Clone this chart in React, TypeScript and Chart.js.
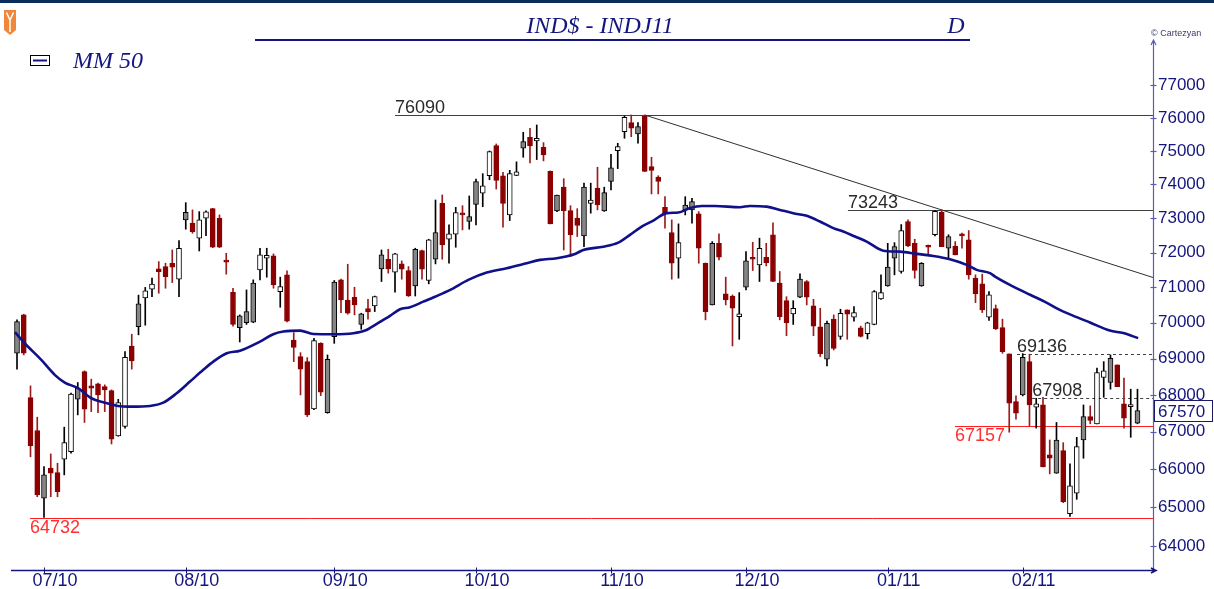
import React, { useEffect, useRef } from 'react';
import { Chart, registerables } from 'chart.js';

Chart.register(...registerables);

// ---- Daily candles, IND$ (Ibovespa futures), 25 Jun 2010 .. 24 Feb 2011 ----
const openP = [
  69146, 70220, 67925, 67035, 65234, 66027, 65910, 66265, 66467, 67880,
  68640, 68247, 68302, 68228, 68118, 66889, 67142, 69349, 69890, 70700,
  70947, 71530, 71596, 71692, 71234, 72951, 72855, 72417, 73001, 73280,
  73001, 71760, 70861, 69858, 69998, 70015, 71502, 71837, 71904, 70880,
  71358, 69516, 69053, 68916, 67618, 69422, 67518, 69606, 71215, 70642,
  70719, 69951, 70399, 70474, 71530, 71808, 71435, 71673, 71483, 71043,
  72055, 71196, 71808, 73437, 72386, 72535, 73148, 72903, 73407, 73736,
  74257, 75159, 74257, 73097, 74267, 75079, 75413, 75300, 75109, 74388,
  73215, 73916, 73225, 73001, 72486, 73437, 73886, 73215, 74085, 75008,
  75584, 75855, 75513, 76050, 74529, 74217, 73319, 72583, 71837, 73244,
  73244, 73127, 71692, 70502, 72268, 70813, 70754, 70173, 71004, 71837,
  71644, 71865, 72516, 71120, 70622, 70248, 70719, 71168, 70474, 69886,
  68980, 70100, 69615, 70361, 70155, 69858, 69691, 69951, 70670, 71043,
  71837, 71454, 72903, 72268, 71043, 72190, 72516, 73180, 72125, 72190,
  72544, 72367, 71263, 71101, 70155, 70400, 69860, 69130, 67816, 67999,
  68915, 67663, 67726, 66380, 65895, 66494, 64829, 65366, 66780, 67410,
  67215, 68477, 68338, 68824, 67753, 67681, 67234,
];
const highP = [
  70080, 70240, 68247, 67394, 66069, 66406, 66158, 67124, 68046, 68338,
  68660, 68431, 68321, 68274, 68137, 67880, 69190, 69677, 70780, 71000,
  71263, 71739, 71692, 72075, 72347, 73457, 73244, 73194, 73215, 73290,
  73097, 71980, 70976, 70220, 70928, 71215, 72125, 72125, 71961, 71292,
  71473, 69720, 69163, 69026, 69561, 69440, 69100, 71196, 71234, 71663,
  71004, 70267, 70661, 70754, 72075, 72095, 71980, 71760, 71596, 72125,
  72075, 72386, 73536, 73685, 72806, 73319, 73368, 73655, 74157, 74318,
  74998, 75210, 74358, 74418, 74671, 75564, 75685, 75786, 75250, 74400,
  73685, 74167, 73368, 73280, 74036, 74036, 74510, 73916, 74898, 75230,
  76060, 76090, 75855, 76090, 74809, 74257, 73634, 72951, 72834, 73634,
  73585, 73194, 71700, 72318, 72544, 71292, 70785, 70852, 72027, 72299,
  72417, 72268, 72864, 71454, 70735, 70622, 71387, 71196, 70661, 70408,
  70043, 70220, 70380, 70361, 70455, 69904, 70015, 70909, 71358, 72268,
  72287, 72815, 72951, 72386, 71711, 72219, 73225, 73243, 72516, 72318,
  72562, 72640, 71358, 71378, 70880, 70500, 70100, 69130, 67971, 69136,
  69120, 67908, 67935, 66780, 67251, 66708, 66142, 66852, 67726, 67699,
  68733, 68915, 69100, 68824, 68459, 68155, 68155,
];
const lowP = [
  68706, 69100, 66330, 65275, 64732, 65275, 65275, 65850, 66424, 67456,
  67251, 67545, 67518, 67545, 66673, 66880, 67099, 68706, 69660, 69930,
  70735, 70833, 70976, 71137, 70735, 72679, 72562, 72046, 72493, 72140,
  72140, 71378, 69904, 69460, 69951, 70000, 71215, 71292, 70976, 70436,
  70024, 68915, 67999, 67410, 67600, 67980, 67500, 69422, 70286, 70239,
  70220, 69816, 70100, 70314, 71168, 71406, 70861, 71234, 70740, 70754,
  71234, 71101, 71673, 71808, 71692, 72154, 72659, 72679, 72806, 73338,
  74137, 73860, 72737, 72932, 74260, 74809, 74643, 74740, 74700, 72834,
  73194, 72075, 71885, 72466, 72170, 73148, 73244, 73200, 73836, 74469,
  75382, 75430, 75230, 74380, 73715, 73715, 72708, 71234, 71263, 73097,
  72855, 71692, 70080, 70500, 71788, 70502, 69349, 69535, 70928, 71483,
  71168, 71615, 71160, 70080, 69634, 69951, 70710, 70502, 69634, 69053,
  68797, 69237, 69535, 69535, 70043, 69597, 69544, 69940, 70660, 71030,
  71358, 71406, 72170, 71263, 71030, 71961, 72486, 72170, 71837, 71932,
  72125, 71234, 70567, 70286, 70061, 69804, 69146, 66988, 67340, 67971,
  67157, 67099, 66062, 65877, 65890, 65119, 64760, 65207, 66292, 67215,
  67210, 67935, 68155, 68228, 67099, 66852, 67215,
];
const closeP = [
  70032, 69150, 66627, 65320, 65850, 65895, 65407, 66708, 68019, 68183,
  67610, 68183, 67999, 68137, 66800, 67789, 69036, 68935, 70530, 70900,
  71091, 71452, 71309, 71578, 72125, 73176, 72609, 72951, 73186, 72154,
  72154, 71723, 69951, 70192, 70313, 71120, 71932, 71923, 71072, 71024,
  70043, 69306, 68706, 67456, 69497, 68073, 68980, 71149, 70642, 70267,
  70502, 70248, 70305, 70735, 71932, 71530, 71961, 71521, 70754, 72095,
  71521, 72367, 72583, 72219, 72544, 73166, 73097, 73049, 74085, 73956,
  74977, 74116, 73437, 74318, 74370, 75280, 75149, 75382, 74878, 72834,
  73685, 73225, 72516, 72786, 73916, 73536, 73388, 73755, 74489, 75129,
  76020, 75685, 75735, 74388, 74418, 74085, 73148, 71692, 72287, 73388,
  73487, 72125, 70313, 72268, 71865, 70642, 70408, 70248, 71760, 71808,
  72125, 71711, 71168, 70173, 69998, 70408, 71234, 70719, 69904, 69127,
  69979, 69284, 70267, 70239, 70286, 69615, 69998, 70880, 70852, 71578,
  72170, 72640, 72190, 71483, 71692, 72154, 73200, 72170, 72466, 71932,
  72486, 71358, 70813, 70361, 70785, 69832, 69190, 67771, 67501, 69036,
  67726, 67753, 66062, 66292, 66780, 65145, 65560, 66600, 67410, 67304,
  68613, 68659, 69008, 68228, 67366, 67726, 67570,
];
// W = hollow up candle, G = grey up candle, R = down candle
const candleKind =
  'GRRRGRRWWG' + 'RRRRRWWRGW' + 'WRRRWGRWWR' + 'RRRGGGWWRW' + 'RRRRWRGGRR' +
  'RGRWGRWRRG' + 'RWGRWWRGGW' + 'WRRWWGRWRR' + 'GRRRGWRGGW' + 'WRGRRRRRWG' +
  'GRRGRRRWGR' + 'WRRRRWGRRR' + 'GRWRWRWWWG' + 'GWRRGRWRGR' + 'RRRRWRRRRG' +
  'RWRRGRWWGR' + 'WWGRRWG';

// ---- MM 50 (moving average) at candle positions ----
const maIdx = [
  -0.3, 1.14, 3.6, 5.59, 7.07, 9.04, 11.0, 13.0, 14.96, 16.93,
  19.7, 21.67, 23.66, 25.63, 27.6, 29.08, 31.07, 33.04, 36.0, 37.97,
  39.45, 41.93, 43.9, 46.86, 49.82, 51.56, 53.29, 55.26, 56.74, 58.22,
  60.19, 61.93, 64.1, 66.86, 69.59, 72.55, 75.51, 77.48, 79.96, 82.67,
  83.9, 86.86, 89.08, 90.81, 92.55, 94.27, 96.25, 97.97, 99.7, 101.44,
  103.41, 107.1, 108.6, 111.07, 113.04, 115.0, 117.0, 118.96, 120.93, 122.41,
  124.15, 125.88, 128.34, 130.81, 133.29, 135.75, 138.22, 140.7, 142.18, 144.15,
  144.9, 147.1, 150.1, 152.3, 154.5, 157.0, 158.96, 161.9, 163.9, 166.1,
];
const maVal = [
  69734, 69425, 68962, 68550, 68338, 68184, 67908, 67788, 67699, 67680,
  67699, 67788, 68046, 68365, 68687, 68915, 69146, 69218, 69470, 69678,
  69751, 69779, 69685, 69678, 69705, 69779, 69967, 70192, 70380, 70437,
  70594, 70735, 70920, 71215, 71424, 71550, 71692, 71788, 71837, 71961,
  72075, 72171, 72287, 72513, 72757, 72932, 73150, 73168, 73300, 73361,
  73361, 73322, 73361, 73340, 73244, 73147, 73069, 72903, 72710, 72611,
  72465, 72318, 72055, 72027, 71961, 71903, 71808, 71645, 71502, 71407,
  71310, 71072, 70790, 70590, 70361, 70156, 70006, 69781, 69708, 69568,
];

// ---- axes ----
const monthIdx = [4, 25, 47, 68, 88, 108, 129, 149];
const monthLabels = ['07/10', '08/10', '09/10', '10/10', '11/10', '12/10', '01/11', '02/11'];
const yTicks = [64000, 65000, 66000, 67000, 68000, 69000, 70000, 71000, 72000, 73000, 74000, 75000, 76000, 77000];

// ---- drawn levels (value, candle index where the line starts) ----
const levelValues = [76090, 73243, 69136, 67908, 67157, 64732];
const levelStart = [56, 123.1, 148.15, 150.4, 138.96, 1.93];
// trend line through two highs (candle index, value)
const trendIdx = [93, 137];
const trendVal = [76090, 73243];
const lastPrice = 67570;

const NAVY = '#15157f';
const RED = '#8b0000';
const RED_WICK = '#9b1c1c';
const GREY = '#868686';

export default function App() {
  const ref = useRef<HTMLCanvasElement>(null);

  useEffect(() => {
    const canvas = ref.current;
    if (!canvas) return;

    const down = (i: number) => closeP[i] < openP[i];
    const bodyFill = (i: number) => (down(i) ? RED : candleKind[i] === 'G' ? GREY : '#ffffff');
    const bodyEdge = (i: number) => (down(i) ? RED : '#000000');
    const wickCol = (i: number) => (down(i) ? RED_WICK : '#000000');

    const levelLook = [
      { color: '#404040', dash: [] as number[], text: '#2a2a2a', below: false },
      { color: '#404040', dash: [], text: '#2a2a2a', below: false },
      { color: '#404040', dash: [3, 3], text: '#2a2a2a', below: false },
      { color: '#404040', dash: [3, 3], text: '#2a2a2a', below: false },
      { color: '#ff2020', dash: [], text: '#ff3030', below: true },
      { color: '#ff2020', dash: [], text: '#ff3030', below: true },
    ];

    const decor = {
      id: 'decor',
      beforeDraw(c: any) {
        const ctx = c.ctx;
        ctx.save();
        ctx.fillStyle = '#ffffff';
        ctx.fillRect(0, 0, c.width, c.height);
        ctx.restore();
      },
      beforeDatasetsDraw(c: any) {
        const ctx = c.ctx;
        const xs = c.scales.x;
        const ys = c.scales.y;
        const area = c.chartArea;
        ctx.save();
        levelValues.forEach((v, i) => {
          const look = levelLook[i];
          const y = Math.round(ys.getPixelForValue(v)) + 0.5;
          const x1 = xs.getPixelForValue(levelStart[i]);
          ctx.strokeStyle = look.color;
          ctx.lineWidth = 1;
          ctx.setLineDash(look.dash);
          ctx.beginPath();
          ctx.moveTo(x1, y);
          ctx.lineTo(area.right, y);
          ctx.stroke();
          ctx.setLineDash([]);
          ctx.font = '18px "Liberation Sans", Arial, sans-serif';
          ctx.fillStyle = look.text;
          ctx.textAlign = 'left';
          if (look.below) {
            ctx.textBaseline = 'top';
            ctx.fillText(String(v), x1, y + 1);
          } else {
            ctx.textBaseline = 'alphabetic';
            ctx.fillText(String(v), x1, y - 3);
          }
        });
        // trend line, extended to the right edge
        const p1x = xs.getPixelForValue(trendIdx[0]);
        const p1y = ys.getPixelForValue(trendVal[0]);
        const p2x = xs.getPixelForValue(trendIdx[1]);
        const p2y = ys.getPixelForValue(trendVal[1]);
        const slope = (p2y - p1y) / (p2x - p1x);
        ctx.strokeStyle = '#303030';
        ctx.lineWidth = 1;
        ctx.beginPath();
        ctx.moveTo(p1x, p1y);
        ctx.lineTo(area.right, p1y + slope * (area.right - p1x));
        ctx.stroke();
        ctx.restore();
      },
      afterDraw(c: any) {
        const ctx = c.ctx;
        const xs = c.scales.x;
        const ys = c.scales.y;
        const area = c.chartArea;
        ctx.save();
        // top border
        ctx.fillStyle = '#0b2d5c';
        ctx.fillRect(0, 0, c.width, 3);
        // logo
        ctx.fillStyle = '#f0873a';
        ctx.beginPath();
        ctx.moveTo(4, 10);
        ctx.lineTo(16, 10);
        ctx.lineTo(16, 30);
        ctx.lineTo(10, 35);
        ctx.lineTo(4, 30);
        ctx.closePath();
        ctx.fill();
        ctx.strokeStyle = '#ffffff';
        ctx.lineWidth = 1.5;
        ctx.beginPath();
        ctx.moveTo(6.5, 12.5);
        ctx.lineTo(10, 20);
        ctx.lineTo(13.5, 12.5);
        ctx.moveTo(10, 20);
        ctx.lineTo(10, 32);
        ctx.stroke();
        // title
        ctx.fillStyle = NAVY;
        ctx.font = 'italic 24px "Liberation Serif", "Times New Roman", serif';
        ctx.textAlign = 'center';
        ctx.textBaseline = 'alphabetic';
        ctx.fillText('IND$ - INDJ11', 600, 33);
        ctx.fillText('D', 956, 33);
        ctx.strokeStyle = NAVY;
        ctx.lineWidth = 2;
        ctx.beginPath();
        ctx.moveTo(255, 40);
        ctx.lineTo(970, 40);
        ctx.stroke();
        // legend
        ctx.strokeStyle = '#000000';
        ctx.lineWidth = 1;
        ctx.fillStyle = '#ffffff';
        ctx.fillRect(30.5, 55.5, 19, 10);
        ctx.strokeRect(30.5, 55.5, 19, 10);
        ctx.strokeStyle = NAVY;
        ctx.lineWidth = 2;
        ctx.beginPath();
        ctx.moveTo(33, 60.5);
        ctx.lineTo(47, 60.5);
        ctx.stroke();
        ctx.fillStyle = NAVY;
        ctx.font = 'italic 24px "Liberation Serif", "Times New Roman", serif';
        ctx.textAlign = 'left';
        ctx.fillText('MM 50', 73, 68);
        // copyright
        ctx.fillStyle = '#3a3a6a';
        ctx.font = '9px "Liberation Sans", Arial, sans-serif';
        ctx.fillText('\u00a9 Cartezyan', 1151, 36);
        // y axis line with arrow
        const ax = area.right + 0.5;
        ctx.strokeStyle = '#5a5ab8';
        ctx.lineWidth = 1.2;
        ctx.beginPath();
        ctx.moveTo(ax, area.bottom);
        ctx.lineTo(ax, 40);
        ctx.moveTo(ax - 2.5, 45);
        ctx.lineTo(ax, 40);
        ctx.lineTo(ax + 2.5, 45);
        ctx.stroke();
        yTicks.forEach((v) => {
          const y = Math.round(ys.getPixelForValue(v)) + 0.5;
          ctx.beginPath();
          ctx.moveTo(ax - 3, y);
          ctx.lineTo(ax + 3, y);
          ctx.stroke();
        });
        // x axis line with arrow
        const ay = area.bottom + 0.5;
        ctx.strokeStyle = NAVY;
        ctx.lineWidth = 1.6;
        ctx.beginPath();
        ctx.moveTo(area.left, ay);
        ctx.lineTo(area.right + 3, ay);
        ctx.moveTo(area.right - 2, ay - 2.5);
        ctx.lineTo(area.right + 3, ay);
        ctx.lineTo(area.right - 2, ay + 2.5);
        ctx.stroke();
        ctx.lineWidth = 1;
        monthIdx.forEach((m) => {
          const x = Math.round(xs.getPixelForValue(m)) + 0.5;
          ctx.beginPath();
          ctx.moveTo(x, ay - 3);
          ctx.lineTo(x, ay + 3);
          ctx.stroke();
        });
        // last price box
        const py = Math.round(ys.getPixelForValue(lastPrice));
        ctx.fillStyle = '#ffffff';
        ctx.fillRect(area.right + 1.5, py - 10.5, 58, 21);
        ctx.strokeStyle = '#1a1a66';
        ctx.lineWidth = 1;
        ctx.strokeRect(area.right + 1.5, py - 10.5, 58, 21);
        ctx.fillStyle = NAVY;
        ctx.font = '17px "Liberation Sans", Arial, sans-serif';
        ctx.textAlign = 'left';
        ctx.textBaseline = 'middle';
        ctx.fillText(String(lastPrice), area.right + 5, py + 1);
        ctx.restore();
      },
    };

    const chart = new Chart(canvas, {
      type: 'bar',
      data: {
        datasets: [
          {
            type: 'line',
            label: 'MM 50',
            data: maIdx.map((x, i) => ({ x, y: maVal[i] })),
            borderColor: '#10108a',
            borderWidth: 2.6,
            pointRadius: 0,
            cubicInterpolationMode: 'monotone',
            fill: false,
            order: 0,
          } as any,
          {
            type: 'bar',
            label: 'body',
            data: openP.map((o, i) => ({ x: i, y: [o, closeP[i]] })),
            backgroundColor: (ctx: any) => bodyFill(ctx.dataIndex),
            borderColor: (ctx: any) => bodyEdge(ctx.dataIndex),
            borderWidth: 1,
            borderSkipped: false,
            barThickness: 5,
            minBarLength: 2,
            grouped: false,
            order: 1,
          } as any,
          {
            type: 'bar',
            label: 'wick',
            data: lowP.map((l, i) => ({ x: i, y: [l, highP[i]] })),
            backgroundColor: (ctx: any) => wickCol(ctx.dataIndex),
            borderWidth: 0,
            barThickness: 1,
            grouped: false,
            order: 2,
          } as any,
        ],
      },
      options: {
        animation: false,
        responsive: false,
        devicePixelRatio: 1,
        layout: { padding: { left: 11, top: 35, right: 0, bottom: 0 }, autoPadding: false },
        plugins: { legend: { display: false }, tooltip: { enabled: false } },
        scales: {
          x: {
            type: 'linear',
            position: 'bottom',
            min: -0.89,
            max: 168.3,
            offset: false,
            bounds: 'data',
            grid: { display: false, drawTicks: false },
            border: { display: false },
            ticks: {
              autoSkip: false,
              maxRotation: 0,
              padding: 0,
              labelOffset: 11,
              color: NAVY,
              font: { family: '"Liberation Sans", Arial, sans-serif', size: 18 },
              callback: (v: any) => {
                const k = monthIdx.indexOf(Number(v));
                return k >= 0 ? monthLabels[k] : '';
              },
            },
            afterBuildTicks: (s: any) => {
              s.ticks = monthIdx.map((v) => ({ value: v }));
            },
            afterFit: (s: any) => {
              s.height = 19;
            },
          },
          y: {
            type: 'logarithmic',
            position: 'right',
            min: 63382,
            max: 78574,
            bounds: 'data',
            beginAtZero: false,
            grid: { display: false, drawTicks: false },
            border: { display: false },
            ticks: {
              padding: 5,
              color: NAVY,
              font: { family: '"Liberation Sans", Arial, sans-serif', size: 17 },
              callback: (v: any) => String(v),
            },
            afterBuildTicks: (s: any) => {
              s.ticks = yTicks.map((v) => ({ value: v }));
            },
            afterFit: (s: any) => {
              s.width = 61;
            },
          },
        },
      } as any,
      plugins: [decor],
    });

    return () => chart.destroy();
  }, []);

  return (
    <div style={{ position: 'fixed', left: 0, top: 0, width: 1214, height: 589, background: '#ffffff' }}>
      <canvas ref={ref} width={1214} height={589} style={{ display: 'block' }} />
    </div>
  );
}
